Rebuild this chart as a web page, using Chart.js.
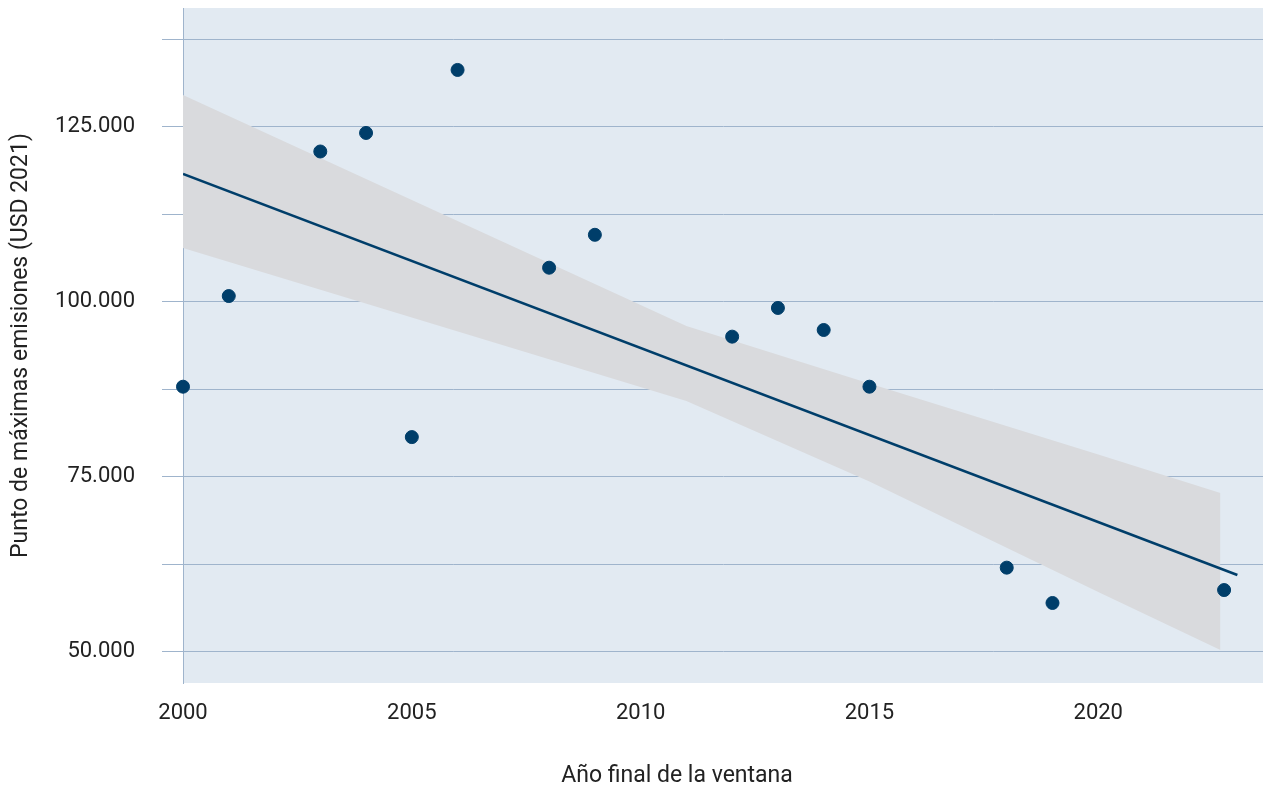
<!DOCTYPE html>
<html>
<head>
<meta charset="utf-8">
<script src="https://cdn.jsdelivr.net/npm/chart.js@4"></script>
<style>
  body { margin: 0; background: #fff; }
</style>
</head>
<body>
<canvas id="myChart" width="1263" height="789"></canvas>
<script>
// observed points
const years = [2000, 2001, 2003, 2004, 2005, 2006, 2008, 2009, 2012, 2013, 2014, 2015, 2018, 2019, 2022.75];
const peaks = [87900, 100850, 121500, 124150, 80700, 133150, 104900, 109600, 95050, 99150, 96000, 87900, 62050, 57000, 58850];

// fitted line
const fitYears = [2000, 2023.04];
const fitValues = [118300, 61000];

// confidence band
const bandYears = [2000, 2005, 2011, 2015, 2020, 2022.67];
const bandUpper = [129570, 114570, 96570, 88360, 78210, 72710];
const bandLower = [107710, 97770, 85860, 74360, 58570, 50290];

const xTicks = [2000, 2005, 2010, 2015, 2020];
const yGrid = [50000, 62500, 75000, 87500, 100000, 112500, 125000, 137500];
const yTicks = [50000, 75000, 100000, 125000];
const xTitle = "Año final de la ventana";
const yTitle = "Punto de máximas emisiones (USD 2021)";

const navy = "#003e6a";
const gridColor = "#9fb4cc";
const tickFont = { family: "Roboto", size: 22 };
const titleFont = { family: "Roboto", size: 23 };

const toXY = (xs, ys) => xs.map((x, i) => ({ x: x, y: ys[i] }));
const fmt = (v) => String(v).replace(/\B(?=(\d{3})+(?!\d))/g, ".");

const plotBg = {
  id: "plotBg",
  beforeDraw(chart) {
    const { ctx, chartArea: a } = chart;
    ctx.save();
    ctx.fillStyle = "#e2eaf2";
    ctx.fillRect(a.left, a.top, a.right - a.left, a.bottom - a.top);
    ctx.restore();
  },
};

// x title sits left of the plot centre in the original
const xTitlePlugin = {
  id: "xTitle",
  afterDraw(chart) {
    const ctx = chart.ctx;
    ctx.save();
    ctx.font = "23px Roboto";
    ctx.fillStyle = "#222";
    ctx.textAlign = "center";
    ctx.textBaseline = "middle";
    ctx.fillText(xTitle, 677, 776);
    ctx.restore();
  },
};

Chart.defaults.color = "#222";

new Chart(document.getElementById("myChart"), {
  type: "scatter",
  data: {
    datasets: [
      {
        label: "puntos",
        data: toXY(years, peaks),
        backgroundColor: navy,
        borderColor: navy,
        pointRadius: 6.5,
        pointHoverRadius: 6.5,
        clip: false,
        order: 0,
      },
      {
        label: "ajuste",
        type: "line",
        data: toXY(fitYears, fitValues),
        borderColor: navy,
        borderWidth: 2.5,
        pointRadius: 0,
        fill: false,
        order: 1,
      },
      {
        label: "inferior",
        type: "line",
        data: toXY(bandYears, bandLower),
        borderWidth: 0,
        pointRadius: 0,
        fill: false,
        order: 3,
      },
      {
        label: "superior",
        type: "line",
        data: toXY(bandYears, bandUpper),
        borderWidth: 0,
        pointRadius: 0,
        backgroundColor: "#d9dadd",
        fill: "-1",
        order: 2,
      },
    ],
  },
  options: {
    responsive: false,
    animation: false,
    devicePixelRatio: 1,
    layout: { autoPadding: false, padding: { top: 8, right: 0, left: 0, bottom: 0 } },
    plugins: {
      legend: { display: false },
      tooltip: { enabled: false },
    },
    scales: {
      x: {
        type: "linear",
        min: 2000,
        max: 2023.6,
        grid: { display: false },
        border: { display: false },
        ticks: {
          font: tickFont,
          padding: 9,
          callback: (v) => String(v),
        },
        afterBuildTicks: (scale) => {
          scale.ticks = xTicks.map((v) => ({ value: v }));
        },
        afterFit: (scale) => {
          scale.height = 106;
          scale.paddingLeft = 0;
          scale.paddingRight = 0;
        },
      },
      y: {
        min: 45570,
        max: 142000,
        grid: { color: gridColor, lineWidth: 1, tickLength: 21 },
        border: { display: true, color: gridColor, width: 1 },
        ticks: {
          font: tickFont,
          padding: 27,
          callback: (v) => (yTicks.includes(v) ? fmt(v) : ""),
        },
        afterBuildTicks: (scale) => {
          scale.ticks = yGrid.map((v) => ({ value: v }));
        },
        title: {
          display: true,
          text: yTitle,
          font: titleFont,
          padding: { top: 7, bottom: 0 },
        },
        afterFit: (scale) => {
          scale.width = 183;
          // label padding would otherwise push the plot top down
          scale.paddingTop = 0;
          scale.paddingBottom = 0;
        },
      },
    },
  },
  plugins: [plotBg, xTitlePlugin],
});
</script>
</body>
</html>
